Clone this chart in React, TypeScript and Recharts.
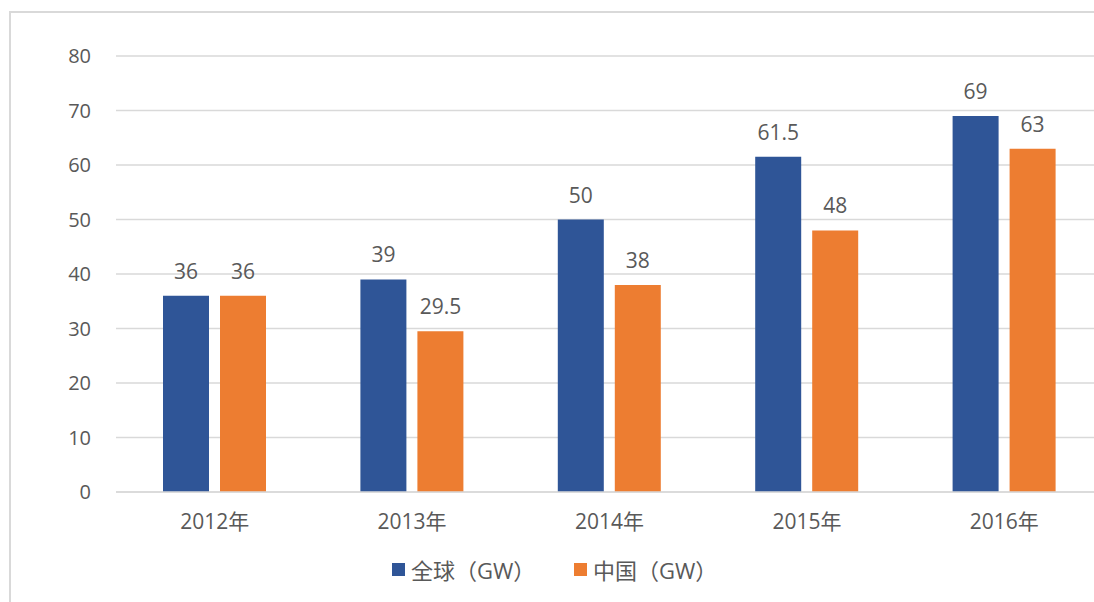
import React from "react";
import { BarChart, Bar, XAxis, YAxis, CartesianGrid, LabelList } from "recharts";

const categories = ["2012年", "2013年", "2014年", "2015年", "2016年"];
const globalValues = [36, 39, 50, 61.5, 69];
const chinaValues = [36, 29.5, 38, 48, 63];
const seriesNames = ["全球（GW）", "中国（GW）"];
const seriesColors = ["#2F5597", "#ED7D31"];
const yTicks = [0, 10, 20, 30, 40, 50, 60, 70, 80];

const data = categories.map((c, i) => ({
  name: c,
  global: globalValues[i],
  china: chinaValues[i],
}));

const FONT = "'Open Sans', 'Noto Sans CJK SC', sans-serif";
const TEXT = "#595959";

export default function App() {
  return (
    <div
      style={{
        position: "fixed",
        left: 0,
        top: 0,
        width: 1094,
        height: 602,
        overflow: "hidden",
        background: "#fff",
        fontFamily: FONT,
      }}
    >
      <div
        style={{
          position: "absolute",
          left: 9,
          top: 11,
          width: 1200,
          height: 700,
          border: "2px solid #d9d9d9",
        }}
      />
      <div style={{ position: "absolute", left: 0, top: 0 }}>
        <BarChart
          width={1103}
          height={602}
          data={data}
          margin={{ top: 56, right: 0, left: 0, bottom: 0 }}
          barGap={11}
          barCategoryGap={47}
        >
          <CartesianGrid vertical={false} stroke="#d9d9d9" strokeWidth={1.3} />
          <XAxis
            dataKey="name"
            height={110}
            axisLine={{ stroke: "#d9d9d9", strokeWidth: 1.3 }}
            tickLine={false}
            tickSize={0}
            tickMargin={22}
            tick={{ fill: TEXT, fontSize: 21, fontFamily: FONT }}
          />
          <YAxis
            width={116}
            domain={[0, 80]}
            ticks={yTicks}
            axisLine={false}
            tickLine={false}
            tickSize={0}
            tickMargin={25}
            tick={{ fill: TEXT, fontSize: 20, fontFamily: FONT }}
          />
          <Bar dataKey="global" fill={seriesColors[0]} isAnimationActive={false}>
            <LabelList dataKey="global" position="top" offset={17} fill={TEXT} fontSize={21} fontFamily={FONT} />
          </Bar>
          <Bar dataKey="china" fill={seriesColors[1]} isAnimationActive={false}>
            <LabelList dataKey="china" position="top" offset={17} fill={TEXT} fontSize={21} fontFamily={FONT} />
          </Bar>
        </BarChart>
      </div>
      {seriesNames.map((n, i) => (
        <div
          key={n}
          style={{
            position: "absolute",
            left: i === 0 ? 392 : 574,
            top: 555,
            height: 28,
            display: "flex",
            alignItems: "center",
            color: TEXT,
            fontSize: 22,
            fontFamily: FONT,
            whiteSpace: "nowrap",
          }}
        >
          <span
            style={{
              display: "inline-block",
              width: 13,
              height: 13,
              background: seriesColors[i],
              marginRight: 6,
            }}
          />
          {n}
        </div>
      ))}
    </div>
  );
}
